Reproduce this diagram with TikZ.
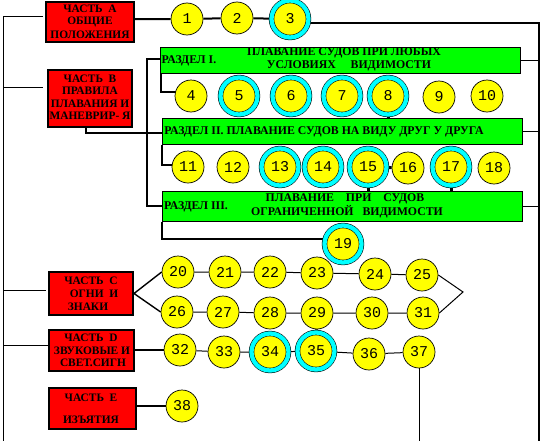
\documentclass[tikz,border=0pt]{standalone}
\usepackage{fontspec}
\setmainfont{Liberation Serif}
\newfontfamily\numfont{Liberation Mono}
\usetikzlibrary{backgrounds}
\definecolor{ringcyan}{RGB}{0,255,255}
\definecolor{dotyellow}{RGB}{255,255,0}
\definecolor{partred}{RGB}{255,0,0}
\definecolor{secgreen}{RGB}{0,255,0}
\begin{document}
\begin{tikzpicture}[x=1pt,y=-1pt,
  redbox/.style={draw=black, line width=2pt, fill=partred, inner sep=0},
  greenbox/.style={draw=black, line width=1.4pt, fill=secgreen, inner sep=0},
  lbl/.style={inner sep=0, font=\bfseries\fontsize{11.4}{13}\selectfont, align=center},
  glbl/.style={inner sep=0, font=\bfseries\fontsize{11.8}{13}\selectfont, align=center},
  num/.style={circle, draw=black, line width=0.7pt, fill=dotyellow, minimum size=32pt, inner sep=0, font=\numfont\fontsize{15}{15}\selectfont},
  ring/.style={num, line width=0.55pt, double=ringcyan, double distance=4.3pt, minimum size=37pt},
  thick line/.style={line width=2pt},
  bracket/.style={line width=2.4pt},
  thin line/.style={line width=1pt}
]
\useasboundingbox (0,0) rectangle (545,447);

% red part boxes
\node[redbox, minimum width=88, minimum height=40] (A) at (90,22) {};
\node[redbox, minimum width=84, minimum height=57] (B) at (90,98.5) {};
\node[redbox, minimum width=84, minimum height=43] (C) at (91,293.5) {};
\node[redbox, minimum width=85, minimum height=41] (D) at (91.5,350.5) {};
\node[redbox, minimum width=87, minimum height=41] (E) at (92.5,408.5) {};

\node[lbl] (A1) at (90,9) {ЧАСТЬ\ \ А};
\node[lbl] (A2) at (90,22) {ОБЩИЕ};
\node[lbl] (A3) at (90,34.5) {ПОЛОЖЕНИЯ};
\node[lbl] (B1) at (90,79) {ЧАСТЬ\ \ В};
\node[lbl] (B2) at (90,91) {ПРАВИЛА};
\node[lbl] (B3) at (90,103.5) {ПЛАВАНИЯ И};
\node[lbl] (B4) at (90,116) {МАНЕВРИР- Я};
\node[lbl] (C1) at (91,281) {ЧАСТЬ\ \ С};
\node[lbl] (C2) at (94,294) {ОГНИ\ \ И};
\node[lbl] (C3) at (88,307) {ЗНАКИ};
\node[lbl] (D1) at (91,338) {ЧАСТЬ\ \ D};
\node[lbl] (D2) at (92,350.5) {ЗВУКОВЫЕ И};
\node[lbl] (D3) at (93,363) {СВЕТ.СИГН};
\node[lbl] (E1) at (91,398) {ЧАСТЬ\ \ Е};
\node[lbl] (E2) at (91,419.5) {ИЗЪЯТИЯ};

% green section boxes
\node[greenbox, minimum width=360, minimum height=26] (G1) at (340.5,60.5) {};
\node[greenbox, minimum width=360, minimum height=26] (G2) at (342.5,131.5) {};
\node[greenbox, minimum width=360, minimum height=30] (G3) at (342.5,206.5) {};

\node[glbl] (G1a) at (189,60.5) {РАЗДЕЛ I.};
\node[glbl] (G1b) at (344,53) {ПЛАВАНИЕ СУДОВ ПРИ ЛЮБЫХ};
\node[glbl] (G1c) at (349,66) {УСЛОВИЯХ\ \ \ \ \ ВИДИМОСТИ};
\node[glbl] (G2a) at (324,132) {РАЗДЕЛ II. ПЛАВАНИЕ СУДОВ НА ВИДУ ДРУГ У ДРУГА};
\node[glbl] (G3a) at (196,207) {РАЗДЕЛ III.};
\node[glbl] (G3b) at (345,199) {ПЛАВАНИЕ\ \ \ \ ПРИ\ \ \ \ СУДОВ};
\node[glbl] (G3c) at (347,212) {ОГРАНИЧЕННОЙ\ \ \ ВИДИМОСТИ};

% circles
\node[num]  (c1) at (187,19) {1};
\node[num]  (c2) at (237,18) {2};
\node[ring] (c3) at (290,19) {3};
\node[num]  (c4) at (191,96) {4};
\node[ring] (c5) at (239,96) {5};
\node[ring] (c6) at (291,96) {6};
\node[ring] (c7) at (342,96) {7};
\node[ring] (c8) at (388,96) {8};
\node[num]  (c9) at (439,97) {9};
\node[num]  (c10) at (487,96) {10};
\node[num]  (c11) at (188,167) {11};
\node[num]  (c12) at (233,167) {12};
\node[ring] (c13) at (280,167) {13};
\node[ring] (c14) at (323,167) {14};
\node[ring] (c15) at (368,167) {15};
\node[num]  (c16) at (408,168) {16};
\node[ring] (c17) at (451,167) {17};
\node[num]  (c18) at (494,168) {18};
\node[ring] (c19) at (343,244) {19};
\node[num]  (c20) at (178,272) {20};
\node[num]  (c21) at (225,272) {21};
\node[num]  (c22) at (270,272) {22};
\node[num]  (c23) at (317,273) {23};
\node[num]  (c24) at (375,274) {24};
\node[num]  (c25) at (422,275) {25};
\node[num]  (c26) at (177,312) {26};
\node[num]  (c27) at (223,312) {27};
\node[num]  (c28) at (270,313) {28};
\node[num]  (c29) at (317,313) {29};
\node[num]  (c30) at (372,313) {30};
\node[num]  (c31) at (423,313) {31};
\node[num]  (c32) at (180,350) {32};
\node[num]  (c33) at (224,352) {33};
\node[ring] (c34) at (270,352) {34};
\node[ring] (c35) at (316,351) {35};
\node[num]  (c36) at (369,354) {36};
\node[num]  (c37) at (419,352) {37};
\node[num]  (c38) at (182,406) {38};

% free-end coordinates
\coordinate (L0) at (3,16);
\coordinate (L1) at (3,441);
\coordinate (tA) at (43,16);
\coordinate (tB) at (43,87);
\coordinate (tC) at (46,290);
\coordinate (tD) at (48,345);
\coordinate (R0) at (539,23);
\coordinate (R1) at (539,441);
\coordinate (b1) at (86,133);
\coordinate (k1) at (147,59);
\coordinate (k2) at (147,206);
\coordinate (g4) at (161,92);
\coordinate (g11) at (162,165);
\coordinate (g19) at (162,239);
\coordinate (tip) at (463,292);
\coordinate (e37) at (419,441);

\begin{pgfonlayer}{background}
  % outer frame lines
  \draw[line width=1pt] (tA) -- (L0) -- (L1);
  \draw[line width=1pt] (L0 |- tB) -- (tB);
  \draw[line width=1pt] (L0 |- tC) -- (tC);
  \draw[line width=1pt] (L0 |- tD) -- (tD);
  \draw[line width=1.4pt] (c3.center |- R0) -- (R0) -- (R1);
  \draw[line width=1.4pt] (G1.east) -- (G1.east -| R0);
  \draw[line width=1.4pt] (G2.east) -- (G2.east -| R0);
  \draw[line width=1.4pt] (G3.east) -- (G3.east -| R0);
  % part A
  \draw[thick line] (A.east |- c1) -- (c1) -- (c2) -- (c3);
  % part B
  \draw[bracket] (b1 |- B.south) -- (b1) -- (b1 -| G2.west);
  \draw[bracket] (k1 -| G1.west) -- (k1) -- (k2) -- (k2 -| G3.west);
  \draw[thick line] (g4 |- G1.south) -- (g4) -- (g4 -| c4);
  \draw[thick line] (g11 |- G2.south) -- (g11) -- (g11 -| c11);
  \draw[thick line] (g19 |- G3.south) -- (g19) -- (g19 -| c19);
  \draw[line width=3pt] (c15) -- (c16);
  \draw[line width=3pt] (c8) -- (c8 |- G2.north);
  \draw[line width=3pt] (c15) -- (c15 |- G3.north);
  \draw[line width=3pt] (c17) -- (c17 |- G3.north);
  % part C
  \draw[line width=1.4pt] (c20.west) -- (C.east) -- (c26.west);
  \draw[thin line] (c20) -- (c21) -- (c22) -- (c23) -- (c24) -- (c25);
  \draw[thin line] (c26) -- (c27) -- (c28) -- (c29) -- (c30) -- (c31);
  \draw[thin line] (c25.east) -- (tip) -- (c31.east);
  \draw[line width=3pt] (c29) -- (c35);
  % part D
  \draw[thick line] (D.east |- c32) -- (c32);
  \draw[thin line] (c32) -- (c33) -- (c34) -- (c35) -- (c36) -- (c37);
  \draw[thin line] (c37) -- (e37);
  % part E
  \draw[thick line] (E.east |- c38) -- (c38);
\end{pgfonlayer}
\end{tikzpicture}
\end{document}
